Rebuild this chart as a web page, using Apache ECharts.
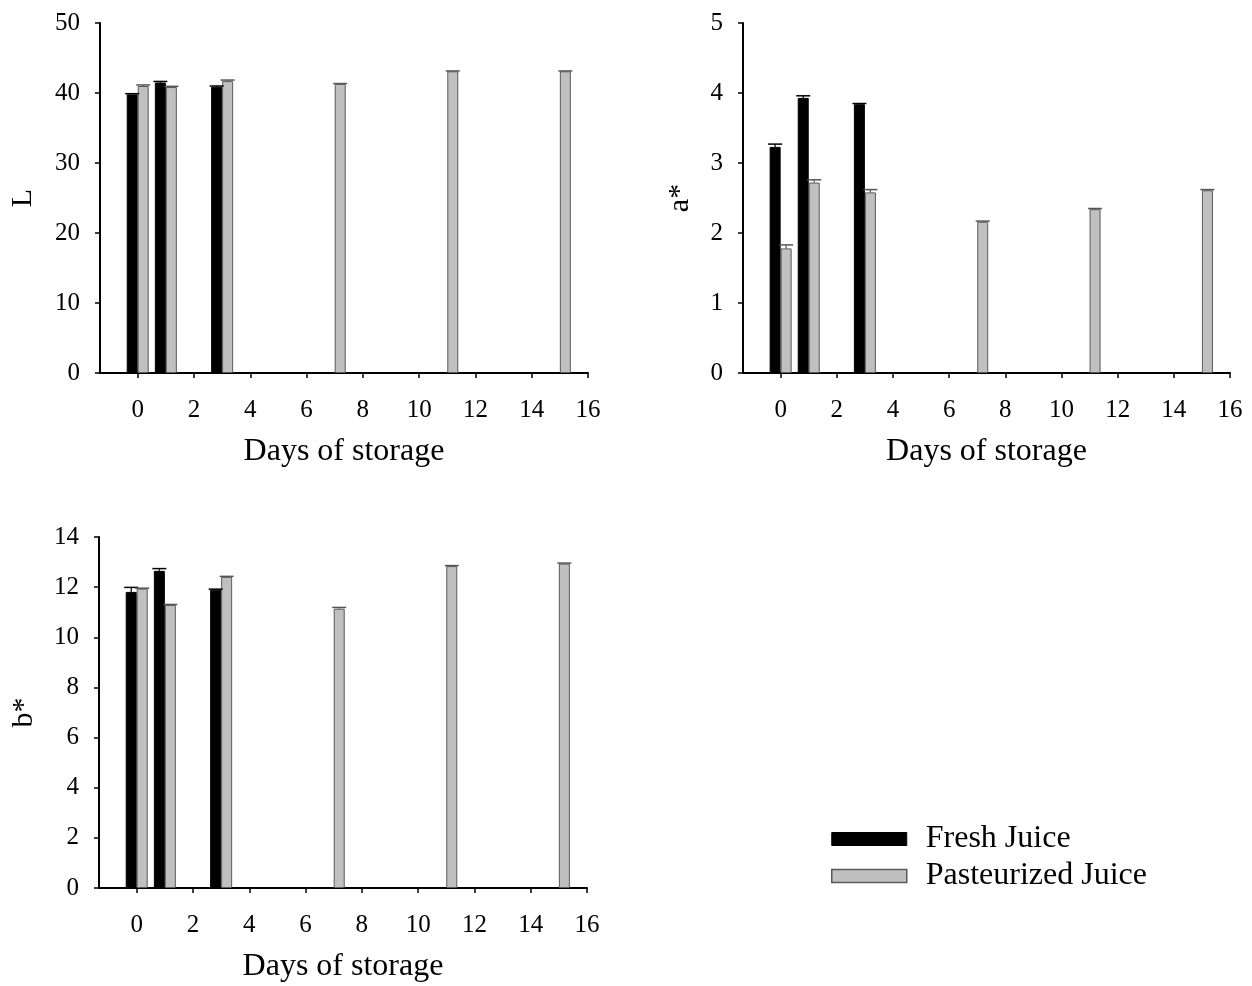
<!DOCTYPE html>
<html>
<head>
<meta charset="utf-8">
<script src="https://cdn.jsdelivr.net/npm/echarts@6/dist/echarts.min.js"></script>
<style>
html,body{margin:0;padding:0;background:#fff;}
#chart{width:1252px;height:986px;}
</style>
</head>
<body>
<div id="chart"></div>
<script>
// ---- data ----
const freshDays = [0, 1, 3];
const pastDays = [0, 1, 3, 7, 11, 15];
const xTicks = [0, 2, 4, 6, 8, 10, 12, 14, 16];

const L_fresh = [39.8, 41.5, 40.9];
const L_fresh_sd = [0.1, 0.15, 0.1];
const L_past = [41.0, 40.85, 41.7, 41.3, 43.1, 43.1];
const L_past_sd = [0.15, 0.1, 0.15, 0.05, 0.05, 0.05];

const a_fresh = [3.23, 3.93, 3.84];
const a_fresh_sd = [0.04, 0.03, 0.01];
const a_past = [1.78, 2.72, 2.58, 2.16, 2.34, 2.61];
const a_past_sd = [0.05, 0.04, 0.04, 0.01, 0.01, 0.01];

const b_fresh = [11.81, 12.65, 11.90];
const b_fresh_sd = [0.18, 0.09, 0.02];
const b_past = [11.94, 11.29, 12.41, 11.14, 12.84, 12.94];
const b_past_sd = [0.02, 0.02, 0.02, 0.05, 0.02, 0.02];

const seriesNames = ['Fresh Juice', 'Pasteurized Juice'];
const panelTitles = ['L', 'a*', 'b*'];
const xTitle = 'Days of storage';

// ---- styling ----
const FONT = 'Liberation Serif';
const BAR_W = 11;
const freshColor = '#000000';
const pastColor = '#c0c0c0';
const pastBorder = '#5a5a5a';

const panels = [
  { fresh: L_fresh, freshSd: L_fresh_sd, past: L_past, pastSd: L_past_sd, ymax: 50, yint: 10,
    grid: { left: 100, top: 23, width: 488, height: 350 }, nameGap: 62 },
  { fresh: a_fresh, freshSd: a_fresh_sd, past: a_past, pastSd: a_past_sd, ymax: 5, yint: 1,
    grid: { left: 743, top: 23, width: 487, height: 350 }, nameGap: 48 },
  { fresh: b_fresh, freshSd: b_fresh_sd, past: b_past, pastSd: b_past_sd, ymax: 14, yint: 2,
    grid: { left: 99, top: 537, width: 488, height: 351 }, nameGap: 60 }
];

function pairs(xs, ys, sds) { return xs.map((x, i) => sds ? [x, ys[i], sds[i]] : [x, ys[i]]); }

function errorSeries(idx, data, dx, color, name) {
  return {
    type: 'custom', name: name, xAxisIndex: idx, yAxisIndex: idx, z: 5,
    silent: true,
    data: data,
    renderItem: function (params, api) {
      const x = api.value(0), m = api.value(1), s = api.value(2);
      const pTop = api.coord([x, m]);
      const pHi = api.coord([x, m + s]);
      const cx = pTop[0] + dx;
      const half = 7;
      return {
        type: 'group',
        children: [
          { type: 'line', shape: { x1: cx, y1: pTop[1], x2: cx, y2: pHi[1] },
            style: { stroke: color, lineWidth: 1.2 } },
          { type: 'line', shape: { x1: cx - half, y1: pHi[1], x2: cx + half, y2: pHi[1] },
            style: { stroke: color, lineWidth: 1.5 } }
        ]
      };
    }
  };
}

const grids = [], xAxes = [], yAxes = [], series = [];
panels.forEach((p, i) => {
  grids.push(Object.assign({ containLabel: false }, p.grid));
  xAxes.push({
    type: 'value', gridIndex: i, min: -1.34, max: 16,
    name: xTitle, nameLocation: 'middle', nameGap: 63,
    nameTextStyle: { fontFamily: FONT, fontSize: 32, color: '#000' },
    axisLine: { onZero: false, lineStyle: { color: '#000', width: 2 } },
    axisTick: { show: true, length: 5, lineStyle: { color: '#000', width: 1.5 }, customValues: xTicks },
    axisLabel: { fontFamily: FONT, fontSize: 25, color: '#000', margin: 25, customValues: xTicks },
    splitLine: { show: false }
  });
  yAxes.push({
    type: 'value', gridIndex: i, min: 0, max: p.ymax, interval: p.yint,
    name: panelTitles[i], nameLocation: 'middle', nameGap: p.nameGap, nameRotate: 90,
    nameTextStyle: { fontFamily: FONT, fontSize: 30, color: '#000' },
    axisLine: { show: true, onZero: false, lineStyle: { color: '#000', width: 2 } },
    axisTick: { show: true, length: 5, lineStyle: { color: '#000', width: 1.5 } },
    axisLabel: { fontFamily: FONT, fontSize: 25, color: '#000', margin: 20 },
    splitLine: { show: false }
  });
  series.push({
    type: 'bar', name: seriesNames[0], xAxisIndex: i, yAxisIndex: i,
    barWidth: BAR_W, barGap: '0%',
    itemStyle: { color: freshColor, borderColor: '#000', borderWidth: 1 },
    data: pairs(freshDays, p.fresh)
  });
  series.push({
    type: 'bar', name: seriesNames[1], xAxisIndex: i, yAxisIndex: i,
    barWidth: BAR_W, barGap: '0%',
    itemStyle: { color: pastColor, borderColor: pastBorder, borderWidth: 1 },
    data: pairs(pastDays, p.past)
  });
  series.push(errorSeries(i, pairs(freshDays, p.fresh, p.freshSd), -BAR_W / 2, '#000', seriesNames[0]));
  series.push(errorSeries(i, pairs(pastDays, p.past, p.pastSd), BAR_W / 2, '#555', seriesNames[1]));
});

const chart = echarts.init(document.getElementById('chart'), null, { renderer: 'canvas' });
chart.setOption({
  animation: false,
  backgroundColor: '#fff',
  grid: grids,
  xAxis: xAxes,
  yAxis: yAxes,
  legend: {
    data: [
      { name: seriesNames[0], icon: 'rect', itemStyle: { color: freshColor, borderColor: '#000', borderWidth: 1 } },
      { name: seriesNames[1], icon: 'rect', itemStyle: { color: pastColor, borderColor: pastBorder, borderWidth: 1.5 } }
    ],
    orient: 'vertical', left: 826, top: 818,
    itemWidth: 75, itemHeight: 13, itemGap: 5,
    selectedMode: false,
    formatter: function (n) { return '{t|' + n + '}'; },
    textStyle: {
      fontFamily: FONT, fontSize: 32, color: '#000',
      rich: { t: { fontFamily: FONT, fontSize: 32, color: '#000', padding: [0, 0, 0, 14] } }
    }
  },
  series: series
});
</script>
</body>
</html>
